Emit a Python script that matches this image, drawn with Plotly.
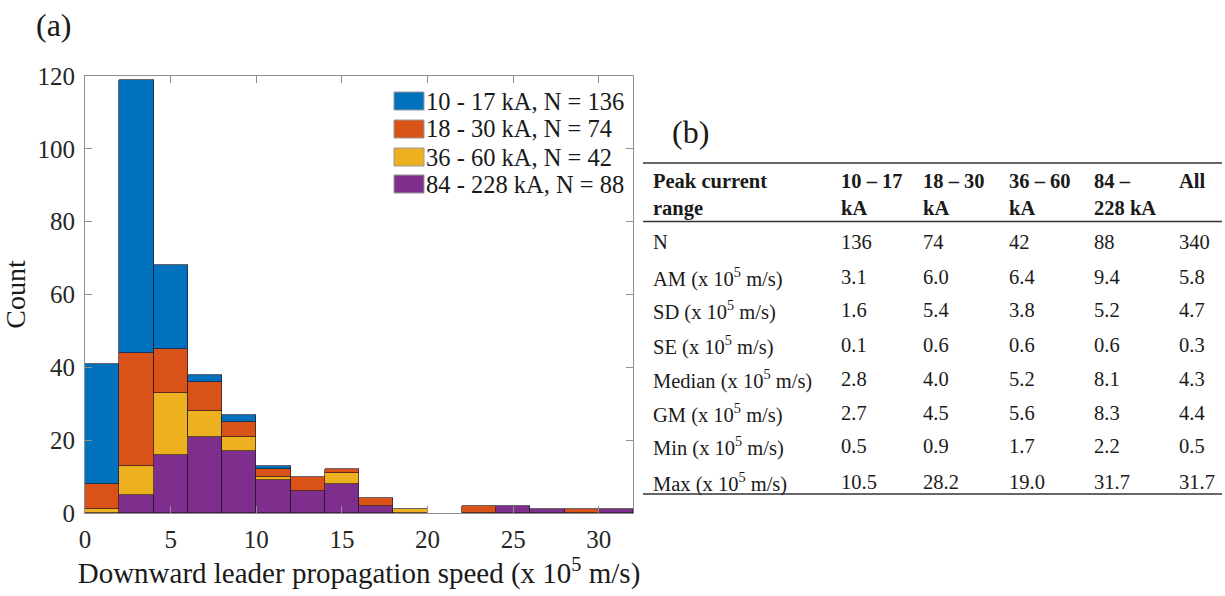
import plotly.graph_objects as go

# ---- histogram data (counts per 2 x 10^5 m/s speed bin) ----
bin_centers = [1, 3, 5, 7, 9, 11, 13, 15, 17, 19, 21, 23, 25, 27, 29, 31]
bin_width = 2
counts_10_17 = [33, 75, 23, 2, 2, 1, 0, 0, 0, 0, 0, 0, 0, 0, 0, 0]
counts_18_30 = [7, 31, 12, 8, 4, 2, 4, 1, 2, 0, 0, 2, 0, 0, 1, 0]
counts_36_60 = [1, 8, 17, 7, 4, 1, 0, 3, 0, 1, 0, 0, 0, 0, 0, 0]
counts_84_228 = [0, 5, 16, 21, 17, 9, 6, 8, 2, 0, 0, 0, 2, 1, 0, 1]

group_ranges = ["10 - 17 kA", "18 - 30 kA", "36 - 60 kA", "84 - 228 kA"]
group_colors = ["#0072BD", "#D95319", "#EDB120", "#7E2F8E"]
group_counts = [counts_10_17, counts_18_30, counts_36_60, counts_84_228]

x_ticks = [0, 5, 10, 15, 20, 25, 30]
y_ticks = [0, 20, 40, 60, 80, 100, 120]

# ---- statistics table ----
table_headers = ["10 – 17<br>kA", "18 – 30<br>kA", "36 – 60<br>kA", "84 –<br>228 kA", "All"]
row_labels = ["N", "AM", "SD", "SE", "Median", "GM", "Min", "Max"]
n_values = [136, 74, 42, 88, 340]
am_values = [3.1, 6.0, 6.4, 9.4, 5.8]
sd_values = [1.6, 5.4, 3.8, 5.2, 4.7]
se_values = [0.1, 0.6, 0.6, 0.6, 0.3]
median_values = [2.8, 4.0, 5.2, 8.1, 4.3]
gm_values = [2.7, 4.5, 5.6, 8.3, 4.4]
min_values = [0.5, 0.9, 1.7, 2.2, 0.5]
max_values = [10.5, 28.2, 19.0, 31.7, 31.7]

W, H = 1225, 596
SERIF = "Liberation Serif, Times New Roman, serif"
TEXT = "#1a1a1a"


def fx(px):
    return px / W


def fy(py):
    return 1 - py / H


fig = go.Figure()

# stacked bars: highest current range at the bottom
for name, color, counts in reversed(list(zip(group_ranges, group_colors, group_counts))):
    fig.add_trace(go.Bar(
        x=bin_centers,
        y=[c if c else None for c in counts],
        width=bin_width,
        name=name,
        marker=dict(color=color, line=dict(color="rgba(35,25,35,0.85)", width=0.8)),
        showlegend=False,
    ))

axis_common = dict(
    showline=True, linecolor="#8f8f8f", linewidth=1, mirror="ticks",
    ticks="inside", ticklen=7, tickcolor="#8f8f8f", tickwidth=1,
    showgrid=False, zeroline=False, automargin=False,
    tickfont=dict(family=SERIF, size=25, color="#262626"),
)

fig.update_layout(
    width=W, height=H,
    margin=dict(l=0, r=0, t=0, b=0),
    paper_bgcolor="white", plot_bgcolor="white",
    barmode="stack", bargap=0,
    xaxis=dict(
        domain=[fx(85), fx(633)], range=[0, 32],
        tickvals=x_ticks, ticklabelstandoff=4,
        title=dict(text="Downward leader propagation speed (x 10<sup>5</sup> m/s)",
                   font=dict(family=SERIF, size=29, color=TEXT), standoff=8),
        **axis_common,
    ),
    yaxis=dict(
        domain=[fy(513), fy(76)], range=[0, 120],
        tickvals=y_ticks, ticklabelstandoff=4,
        title=dict(text="Count", font=dict(family=SERIF, size=28, color=TEXT), standoff=6),
        **axis_common,
    ),
)

# legend drawn inside the axes (swatch + label)
legend_rows_y = [101, 129, 157, 184]
for (name, color, n), ry in zip(zip(group_ranges, group_colors, n_values), legend_rows_y):
    fig.add_shape(type="rect", xref="paper", yref="paper",
                  x0=fx(394), x1=fx(424), y0=fy(ry + 9), y1=fy(ry - 9),
                  fillcolor=color, line=dict(color="#9a9a9a", width=1))
    fig.add_annotation(xref="paper", yref="paper", x=fx(424), y=fy(ry),
                       xanchor="left", yanchor="middle", showarrow=False,
                       text=f"{name}, N = {n}",
                       font=dict(family=SERIF, size=24.5, color=TEXT))

# panel labels
fig.add_annotation(xref="paper", yref="paper", x=fx(54), y=fy(25), text="(a)",
                   showarrow=False, xanchor="center", yanchor="middle",
                   font=dict(family=SERIF, size=32, color=TEXT))
fig.add_annotation(xref="paper", yref="paper", x=fx(690), y=fy(132), text="(b)",
                   showarrow=False, xanchor="center", yanchor="middle",
                   font=dict(family=SERIF, size=32, color=TEXT))

# table rules
for ry in [163, 221.5, 494]:
    fig.add_shape(type="line", xref="paper", yref="paper",
                  x0=fx(643), x1=fx(1222), y0=fy(ry), y1=fy(ry),
                  line=dict(color="#333333", width=1.5))

col_x = [839, 921, 1007, 1092, 1177]
label_x = 651
TFONT = dict(family=SERIF, size=20.5, color=TEXT)
TBOLD = dict(family=SERIF, size=20.5, color=TEXT, weight="bold")

fig.add_annotation(xref="paper", yref="paper", x=fx(label_x), y=fy(168),
                   text="Peak current<br>range", showarrow=False,
                   xanchor="left", yanchor="top", align="left", font=TBOLD)
for cx, htxt in zip(col_x, table_headers):
    fig.add_annotation(xref="paper", yref="paper", x=fx(cx), y=fy(168),
                       text=htxt, showarrow=False,
                       xanchor="left", yanchor="top", align="left", font=TBOLD)

unit = " (x 10<sup>5</sup> m/s)"
row_values = [n_values, am_values, sd_values, se_values,
              median_values, gm_values, min_values, max_values]
row_y = [242, 277, 310, 345, 379, 413, 446, 482]
for label, vals, ry in zip(row_labels, row_values, row_y):
    shown = label if label == "N" else label + unit
    fig.add_annotation(xref="paper", yref="paper", x=fx(label_x), y=fy(ry),
                       text=shown, showarrow=False,
                       xanchor="left", yanchor="middle", font=TFONT)
    for cx, v in zip(col_x, vals):
        txt = str(v) if label == "N" else f"{v:.1f}"
        fig.add_annotation(xref="paper", yref="paper", x=fx(cx), y=fy(ry),
                           text=txt, showarrow=False,
                           xanchor="left", yanchor="middle", font=TFONT)

fig.write_html("out.html")
